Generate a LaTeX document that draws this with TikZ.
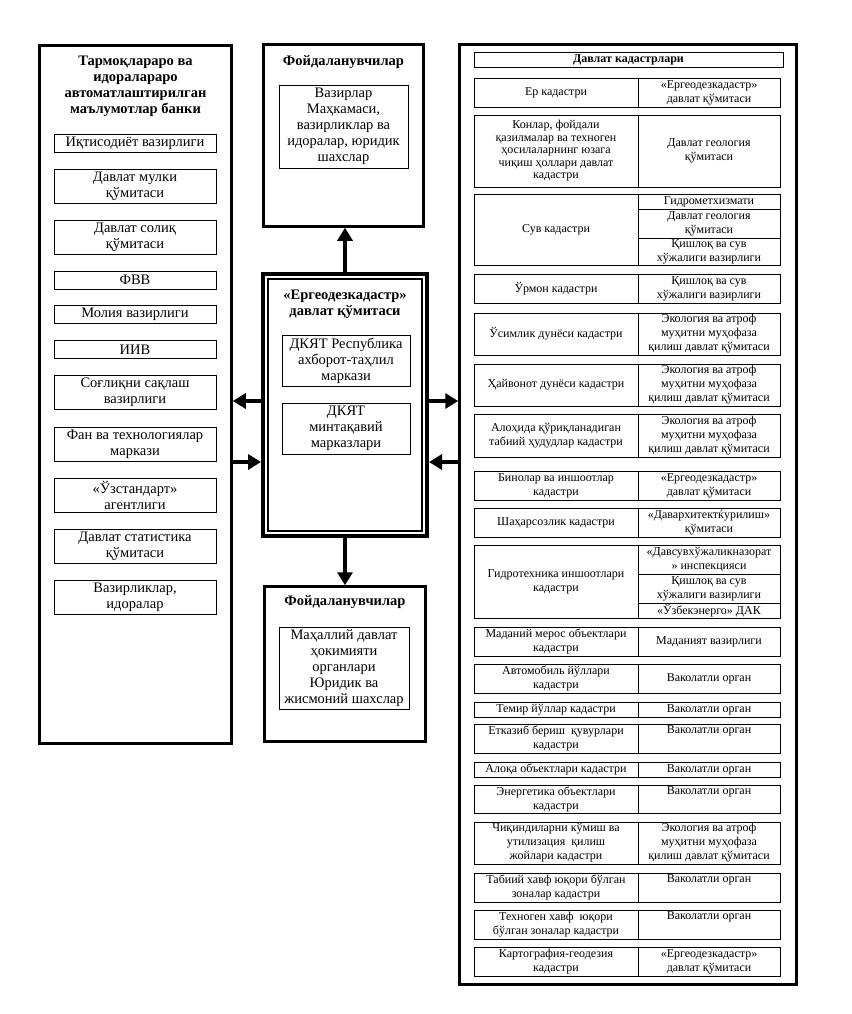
\documentclass[tikz,border=0pt]{standalone}
\usepackage{fontspec}
\setmainfont{Liberation Serif}
\usetikzlibrary{arrows.meta}

\begin{document}
\begin{tikzpicture}[x=1pt, y=-1pt,
	bigbox/.style={draw, rectangle, line width=2.5pt},
	box/.style={draw, rectangle, line width=0.9pt, align=center, inner sep=1pt, font=\fontsize{14.5}{16}\selectfont},
	lbox/.style={box, minimum width=162pt},
	head/.style={align=center, inner sep=0pt, font=\fontsize{14.5}{16}\selectfont\bfseries},
	celltext/.style={align=center, inner sep=0.5pt, font=\fontsize{12}{14}\selectfont},
	cell/.style={draw, rectangle, line width=0.9pt, celltext},
	kl/.style={cell, minimum width=164pt},
	kr/.style={cell, minimum width=142pt},
	kt/.style={kr, label={[celltext, inner sep=1.5pt, anchor=north]north:#1}},
	arr/.style={line width=4.5pt, -{Triangle[length=13pt, width=15pt]}},
	]
	\useasboundingbox (0,0) rectangle (851,1014);
	
	% left column
	\node[bigbox, minimum width=192pt, minimum height=698pt] (lst) at (135.5,394.5) {};
	\node[head] (lsttitle) at (135.5,86) {Тармоқлараро ва\\идоралараро\\автоматлаштирилган\\маълумотлар банки};
	\node[lbox, minimum height=18pt] (l1) at (135,143) {Иқтисодиёт вазирлиги};
	\node[lbox, minimum height=34pt] (l2) at (135,186) {Давлат мулки\\қўмитаси};
	\node[lbox, minimum height=34pt] (l3) at (135,237) {Давлат солиқ\\қўмитаси};
	\node[lbox, minimum height=18pt] (l4) at (135,280) {ФВВ};
	\node[lbox, minimum height=18pt] (l5) at (135,314) {Молия вазирлиги};
	\node[lbox, minimum height=18pt] (l6) at (135,349.5) {ИИВ};
	\node[lbox, minimum height=34pt] (l7) at (135,392) {Соғлиқни сақлаш\\вазирлиги};
	\node[lbox, minimum height=34pt] (l8) at (135,444) {Фан ва технологиялар\\маркази};
	\node[lbox, minimum height=34pt] (l9) at (135,495) {«Ўзстандарт»\\агентлиги};
	\node[lbox, minimum height=34pt] (l10) at (135,546) {Давлат статистика\\қўмитаси};
	\node[lbox, minimum height=34pt] (l11) at (135,597) {Вазирликлар,\\идоралар};
	
	% users, top
	\node[bigbox, minimum width=160pt, minimum height=182pt] (top) at (343.5,135.5) {};
	\node[head] (toptitle) at (343.5,62) {Фойдаланувчилар};
	\node[box, minimum width=129pt, minimum height=83pt] (topusers) at (343.5,126.5) {Вазирлар\\Маҳкамаси,\\вазирликлар ва\\идоралар, юридик\\шахслар};
	
	% committee
	\node[draw, line width=4pt, minimum width=164pt, minimum height=262pt] (cen) at (345,405) {};
	\node[draw, line width=1.2pt, minimum width=154pt, minimum height=252pt] (cenin) at (cen) {};
	\node[head] (centitle) at (345,304) {«Ергеодезкадастр»\\давлат қўмитаси};
	\node[box, minimum width=128pt, minimum height=51pt] (cen1) at (346,360.5) {ДКЯТ Республика\\ахборот-таҳлил\\маркази};
	\node[box, minimum width=128pt, minimum height=51pt] (cen2) at (346,428.5) {ДКЯТ\\минтақавий\\марказлари};
	
	% users, bottom
	\node[bigbox, minimum width=161pt, minimum height=155pt] (bot) at (345,664) {};
	\node[head] (bottitle) at (345,602) {Фойдаланувчилар};
	\node[box, minimum width=130pt, minimum height=82pt] (botusers) at (344,668) {Маҳаллий давлат\\ҳокимияти\\органлари\\Юридик ва\\жисмоний шахслар};
	
	% cadastres
	\node[bigbox, minimum width=337pt, minimum height=940pt] (kad) at (628,514.5) {};
	\node[cell, font=\fontsize{12}{14}\selectfont\bfseries, minimum width=309pt, minimum height=15pt] (khead) at (628.5,59.5) {Давлат кадастрлари};
	\node[kl, minimum height=29pt] (k1l) at (556,92.5) {Ер кадастри};
	\node[kr, minimum height=29pt] (k1r) at (709,92.5) {«Ергеодезкадастр»\\давлат қўмитаси};
	\node[kl, minimum height=72pt, font=\fontsize{12}{12.5}\selectfont] (k2l) at (556,151) {Конлар, фойдали\\қазилмалар ва техноген\\ҳосилаларнинг юзага\\чиқиш ҳоллари давлат\\кадастри};
	\node[kr, minimum height=72pt] (k2r) at (709,151) {Давлат геология\\қўмитаси};
	\node[kl, minimum height=71pt] (k3l) at (556,229.5) {Сув кадастри};
	\node[kr, minimum height=15pt] (k3a) at (709,201.5) {Гидрометхизмати};
	\node[kr, minimum height=29pt] (k3b) at (709,223.5) {Давлат геология\\қўмитаси};
	\node[kr, minimum height=27pt] (k3c) at (709,251.5) {Қишлоқ ва сув\\хўжалиги вазирлиги};
	\node[kl, minimum height=29pt] (k4l) at (556,288.5) {Ўрмон кадастри};
	\node[kr, minimum height=29pt] (k4r) at (709,288.5) {Қишлоқ ва сув\\хўжалиги вазирлиги};
	\node[kl, minimum height=42pt] (k5l) at (556,334) {Ўсимлик дунёси кадастри};
	\node[kr, minimum height=42pt] (k5r) at (709,334) {Экология ва атроф\\муҳитни муҳофаза\\қилиш давлат қўмитаси};
	\node[kl, minimum height=42pt] (k6l) at (556,385) {Ҳайвонот дунёси кадастри};
	\node[kr, minimum height=42pt] (k6r) at (709,385) {Экология ва атроф\\муҳитни муҳофаза\\қилиш давлат қўмитаси};
	\node[kl, minimum height=43pt] (k7l) at (556,435.5) {Алоҳида қўриқланадиган\\табиий ҳудудлар кадастри};
	\node[kr, minimum height=43pt] (k7r) at (709,435.5) {Экология ва атроф\\муҳитни муҳофаза\\қилиш давлат қўмитаси};
	\node[kl, minimum height=29pt] (k8l) at (556,485.5) {Бинолар ва иншоотлар\\кадастри};
	\node[kr, minimum height=29pt] (k8r) at (709,485.5) {«Ергеодезкадастр»\\давлат қўмитаси};
	\node[kl, minimum height=29pt] (k9l) at (556,522.5) {Шаҳарсозлик кадастри};
	\node[kr, minimum height=29pt] (k9r) at (709,522.5) {«Давархитектќурилиш»\\қўмитаси};
	\node[kl, minimum height=73pt] (k10l) at (556,581.5) {Гидротехника иншоотлари\\кадастри};
	\node[kr, minimum height=29pt] (k10a) at (709,559.5) {«Давсувхўжаликназорат\\» инспекцияси};
	\node[kr, minimum height=29pt] (k10b) at (709,588.5) {Қишлоқ ва сув\\хўжалиги вазирлиги};
	\node[kr, minimum height=15pt] (k10c) at (709,610.5) {«Ўзбекэнерго» ДАК};
	\node[kl, minimum height=29pt] (k11l) at (556,641.5) {Маданий мерос объектлари\\кадастри};
	\node[kr, minimum height=29pt] (k11r) at (709,641.5) {Маданият вазирлиги};
	\node[kl, minimum height=29pt] (k12l) at (556,678.5) {Автомобиль йўллари\\кадастри};
	\node[kr, minimum height=29pt] (k12r) at (709,678.5) {Ваколатли орган};
	\node[kl, minimum height=15pt] (k13l) at (556,709.5) {Темир йўллар кадастри};
	\node[kr, minimum height=15pt] (k13r) at (709,709.5) {Ваколатли орган};
	\node[kl, minimum height=29pt] (k14l) at (556,738.5) {Етказиб бериш\ \ қувурлари\\кадастри};
	\node[kt=Ваколатли орган, minimum height=29pt] (k14r) at (709,738.5) {};
	\node[kl, minimum height=15pt] (k15l) at (556,769.5) {Алоқа объектлари кадастри};
	\node[kr, minimum height=15pt] (k15r) at (709,769.5) {Ваколатли орган};
	\node[kl, minimum height=28pt] (k16l) at (556,799) {Энергетика объектлари\\кадастри};
	\node[kt=Ваколатли орган, minimum height=28pt] (k16r) at (709,799) {};
	\node[kl, minimum height=42pt] (k17l) at (556,843) {Чиқиндиларни кўмиш ва\\утилизация\ \ қилиш\\жойлари кадастри};
	\node[kr, minimum height=42pt] (k17r) at (709,843) {Экология ва атроф\\муҳитни муҳофаза\\қилиш давлат қўмитаси};
	\node[kl, minimum height=29pt] (k18l) at (556,887.5) {Табиий хавф юқори бўлган\\зоналар кадастри};
	\node[kt=Ваколатли орган, minimum height=29pt] (k18r) at (709,887.5) {};
	\node[kl, minimum height=29pt] (k19l) at (556,924.5) {Техноген хавф\ \ юқори\\бўлган зоналар кадастри};
	\node[kt=Ваколатли орган, minimum height=29pt] (k19r) at (709,924.5) {};
	\node[kl, minimum height=29pt] (k20l) at (556,961.5) {Картография-геодезия\\кадастри};
	\node[kr, minimum height=29pt] (k20r) at (709,961.5) {«Ергеодезкадастр»\\давлат қўмитаси};
	
	% arrows
	\coordinate (ya) at (0,401);
	\coordinate (yb) at (0,462);
	\draw[arr] (cen.north) -- (cen.north |- top.south);
	\draw[arr] (cen.south) -- (cen.south |- bot.north);
	\draw[arr] (cen.west |- ya) -- (lst.east |- ya);
	\draw[arr] (lst.east |- yb) -- (cen.west |- yb);
	\draw[arr] (cen.east |- ya) -- (kad.west |- ya);
	\draw[arr] (kad.west |- yb) -- (cen.east |- yb);
\end{tikzpicture}
\end{document}
